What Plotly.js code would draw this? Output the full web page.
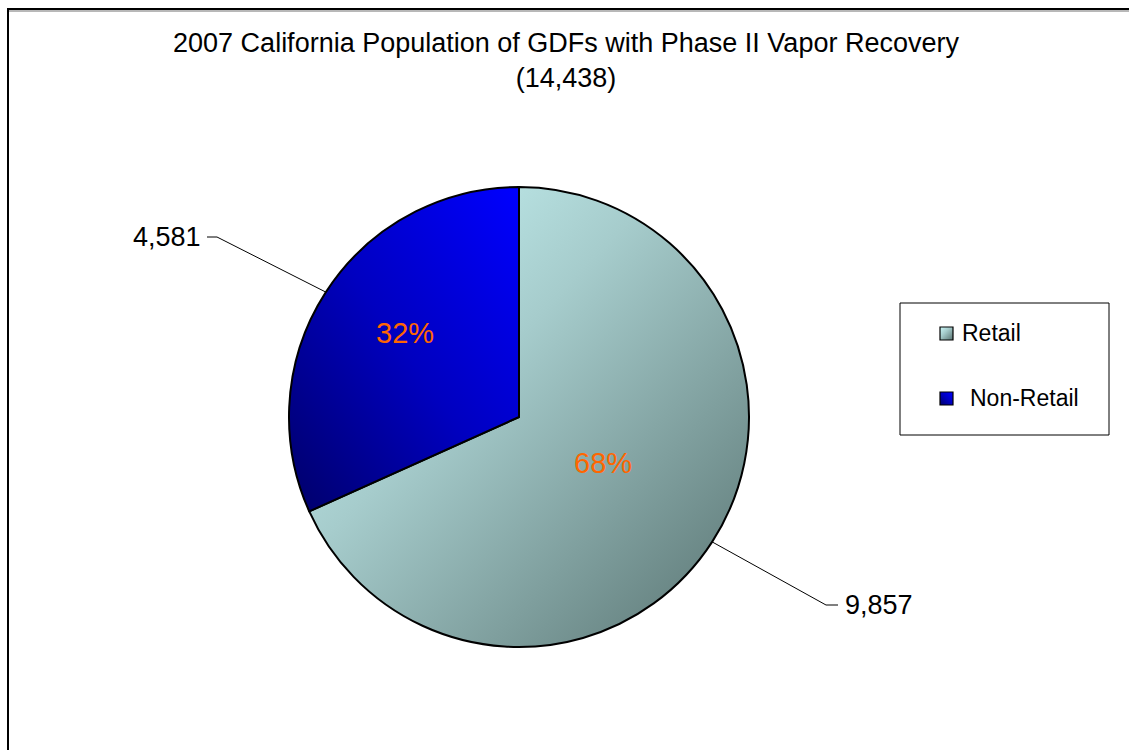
<!DOCTYPE html>
<html>
<head>
<meta charset="utf-8">
<script src="https://cdn.plot.ly/plotly-3.0.1.min.js"></script>
<style>
  html, body { margin: 0; padding: 0; background: #ffffff; }
  #chart { width: 1129px; height: 750px; }
</style>
</head>
<body>
<div id="chart"></div>
<script>
// Station categories and their counts
const categories = ['Retail', 'Non-Retail'];
const stationCounts = [9857, 4581];
const titleLine = '2007 California Population of GDFs with Phase II Vapor Recovery';

// Figure geometry (pixels)
const W = 1129, H = 750;
const PIE = { cx: 519, cy: 417, r: 230 };
const FONT = 'Liberation Sans, Arial, sans-serif';
const fx = p => p / W;
const fy = p => 1 - p / H;
const fmt = n => n.toLocaleString('en-US');

const total = stationCounts.reduce((a, b) => a + b, 0);

// Point on the pie rim at the middle of slice i (slices run clockwise from 12 o'clock)
function rimPoint(i) {
  let start = 0;
  for (let k = 0; k < i; k++) start += stationCounts[k] / total;
  const theta = 2 * Math.PI * (start + stationCounts[i] / total / 2);
  return [PIE.cx + PIE.r * Math.sin(theta), PIE.cy - PIE.r * Math.cos(theta)];
}

const trace = {
  type: 'pie',
  labels: categories,
  values: stationCounts,
  sort: false,
  direction: 'clockwise',
  rotation: 0,
  domain: {
    x: [fx(PIE.cx - PIE.r), fx(PIE.cx + PIE.r)],
    y: [fy(PIE.cy + PIE.r), fy(PIE.cy - PIE.r)]
  },
  marker: { colors: ['#97bcbc', '#0000c8'], line: { color: '#000000', width: 2 } },
  textinfo: 'none',
  hoverinfo: 'none',
  showlegend: false
};

// Value labels with leader lines, and percentage labels inside the slices
const labelSpots = [
  { anchor: 'left',  tx: 843, ty: 605, elbow: [826, 838], px: 603, py: 463 },  // Retail
  { anchor: 'right', tx: 203, ty: 237, elbow: [217, 207], px: 405, py: 333 }   // Non-Retail
];

const shapes = [];
const annotations = [];

stationCounts.forEach((v, i) => {
  const s = labelSpots[i];
  const [ex, ey] = rimPoint(i);
  shapes.push({
    type: 'path', xref: 'paper', yref: 'paper',
    path: `M ${fx(ex)} ${fy(ey)} L ${fx(s.elbow[0])} ${fy(s.ty)} L ${fx(s.elbow[1])} ${fy(s.ty)}`,
    line: { color: '#000000', width: 1 }
  });
  annotations.push({
    xref: 'paper', yref: 'paper', x: fx(s.tx), y: fy(s.ty),
    xanchor: s.anchor, yanchor: 'middle', showarrow: false,
    text: fmt(v), font: { family: FONT, size: 27, color: '#000000' }
  });
  annotations.push({
    xref: 'paper', yref: 'paper', x: fx(s.px), y: fy(s.py),
    xanchor: 'center', yanchor: 'middle', showarrow: false,
    text: Math.round(v / total * 100) + '%',
    font: { family: FONT, size: 29, color: '#ff6600' }
  });
});

// Outer frame
shapes.push({
  type: 'line', xref: 'paper', yref: 'paper',
  x0: fx(8), x1: 1.05, y0: fy(11), y1: fy(11),
  line: { color: '#a0a0a0', width: 1.5 }
});
shapes.push({
  type: 'path', xref: 'paper', yref: 'paper',
  path: `M ${fx(8)} -0.05 L ${fx(8)} ${fy(9)} L 1.05 ${fy(9)}`,
  line: { color: '#000000', width: 2 }
});

// Legend box and entries
shapes.push({
  type: 'rect', xref: 'paper', yref: 'paper',
  x0: fx(900), x1: fx(1109), y0: fy(435), y1: fy(303),
  line: { color: '#000000', width: 1 }, fillcolor: 'rgba(255,255,255,0)'
});
const legendRows = [
  { y: 333, sx: 940, tx: 960, fill: '#b4dcdc' },
  { y: 398, sx: 940, tx: 968, fill: '#0000c8' }
];
const swatchStart = shapes.length;
categories.forEach((c, i) => {
  const row = legendRows[i];
  shapes.push({
    type: 'rect', xref: 'paper', yref: 'paper',
    x0: fx(row.sx), x1: fx(row.sx + 13), y0: fy(row.y + 7), y1: fy(row.y - 6),
    line: { color: '#000000', width: 1.2 }, fillcolor: row.fill
  });
  annotations.push({
    xref: 'paper', yref: 'paper', x: fx(row.tx), y: fy(row.y),
    xanchor: 'left', yanchor: 'middle', showarrow: false,
    text: c, font: { family: FONT, size: 23, color: '#000000' }
  });
});

const layout = {
  width: W, height: H,
  margin: { l: 0, r: 0, t: 0, b: 0 },
  paper_bgcolor: '#ffffff',
  plot_bgcolor: '#ffffff',
  title: {
    text: `${titleLine}<br>(${fmt(total)})`,
    font: { family: FONT, size: 27, color: '#000000' },
    x: fx(566), xanchor: 'center',
    y: fy(52), yanchor: 'top', yref: 'container'
  },
  showlegend: false,
  shapes: shapes,
  annotations: annotations
};

const gd = document.getElementById('chart');
Plotly.newPlot(gd, [trace], layout, { displayModeBar: false, staticPlot: true }).then(() => {
  // Shaded fills for the slices and legend swatches
  const svg = gd.querySelector('svg.main-svg');
  const ns = 'http://www.w3.org/2000/svg';
  let defs = svg.querySelector('defs');
  if (!defs) { defs = document.createElementNS(ns, 'defs'); svg.insertBefore(defs, svg.firstChild); }
  function addGrad(id, x1, y1, x2, y2, stops) {
    const g = document.createElementNS(ns, 'linearGradient');
    g.setAttribute('id', id);
    g.setAttribute('x1', x1); g.setAttribute('y1', y1);
    g.setAttribute('x2', x2); g.setAttribute('y2', y2);
    stops.forEach(([o, c]) => {
      const s = document.createElementNS(ns, 'stop');
      s.setAttribute('offset', o); s.setAttribute('stop-color', c);
      g.appendChild(s);
    });
    defs.appendChild(g);
  }
  addGrad('shadeRetail', 0, 0, 1, 1, [[0, '#ccfafa'], [0.4, '#a6cccc'], [1, '#587270']]);
  addGrad('shadeNonRetail', 1, 0, 0, 1, [[0, '#0000ff'], [0.5, '#0000c0'], [1, '#000068']]);
  const ids = ['shadeRetail', 'shadeNonRetail'];
  gd.querySelectorAll('g.slice path.surface').forEach((p, i) => {
    p.style.fill = `url(#${ids[i]})`;
  });
  const shapePaths = gd.querySelectorAll('.shapelayer path');
  categories.forEach((c, i) => {
    const p = shapePaths[swatchStart + i];
    if (p) p.style.fill = `url(#${ids[i]})`;
  });
});
</script>
</body>
</html>
